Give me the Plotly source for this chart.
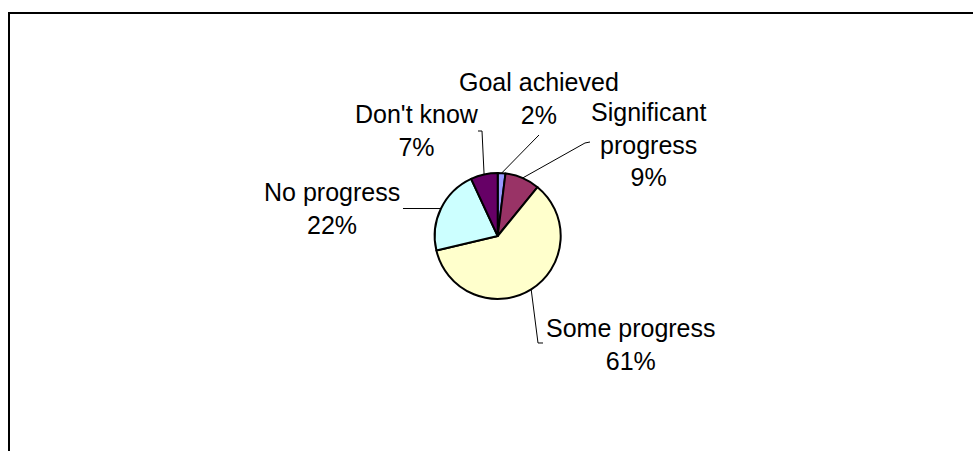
import math
import plotly.graph_objects as go

# Survey responses on progress towards the goal
categories = ["Goal achieved", "Significant progress", "Some progress", "No progress", "Don't know"]
shares = [2, 9, 61, 22, 7]
label_text = ["Goal achieved<br>2%", "Significant<br>progress<br>9%", "Some progress<br>61%",
              "No progress<br>22%", "Don't know<br>7%"]
colors = ["#9999FF", "#993366", "#FFFFCC", "#CCFFFF", "#660066"]

W, H = 973, 451
CX, CY, R = 497.7, 236.0, 63.0          # pie centre and radius in pixels
FONT = dict(family="Arial, Liberation Sans, sans-serif", size=25, color="black")


def px(x, y):
    """Pixel position -> paper coordinates."""
    return x / W, 1 - y / H


# Leader-line bends and label centres (pixels) for each slice
label_layout = [
    dict(path=[(539, 135)], text=(539, 98)),
    dict(path=[(585, 143), (590, 142)], text=(648, 144)),
    dict(path=[(538, 343), (543, 343)], text=(631, 344)),
    dict(path=[(403, 208.5)], text=(332, 208)),
    dict(path=[(482, 131), (478, 131)], text=(417, 130)),
]

fig = go.Figure(go.Pie(
    labels=categories,
    values=shares,
    sort=False,
    direction="clockwise",
    rotation=0,
    textinfo="none",
    hovertemplate="%{label}: %{value}%<extra></extra>",
    marker=dict(colors=colors, line=dict(color="black", width=2)),
    domain=dict(x=[(CX - R) / W, (CX + R) / W], y=[1 - (CY + R) / H, 1 - (CY - R) / H]),
    showlegend=False,
))

shapes = []
annotations = []
total = sum(shares)
cum = 0.0
for v, txt, lay in zip(shares, label_text, label_layout):
    mid = (cum + v / 2) / total * 2 * math.pi
    cum += v
    ax, ay = CX + R * math.sin(mid), CY - R * math.cos(mid)
    pts = [(ax, ay)] + lay["path"]
    d = "M " + " L ".join(f"{px(x, y)[0]:.5f},{px(x, y)[1]:.5f}" for x, y in pts)
    shapes.append(dict(type="path", path=d, xref="paper", yref="paper",
                       line=dict(color="black", width=1)))
    tx, ty = px(*lay["text"])
    annotations.append(dict(x=tx, y=ty, xref="paper", yref="paper", text=txt,
                            showarrow=False, align="center", xanchor="center",
                            yanchor="middle", font=FONT))

# Chart-area frame
fx0, fy1 = px(9, 13)
shapes.append(dict(type="rect", xref="paper", yref="paper", x0=fx0, y0=-0.05, x1=1.05, y1=fy1,
                   line=dict(color="black", width=2), fillcolor="rgba(0,0,0,0)", layer="below"))

fig.update_layout(
    width=W, height=H,
    margin=dict(l=0, r=0, t=0, b=0),
    paper_bgcolor="white", plot_bgcolor="white",
    shapes=shapes,
    annotations=annotations,
)

fig.write_html("out.html")
